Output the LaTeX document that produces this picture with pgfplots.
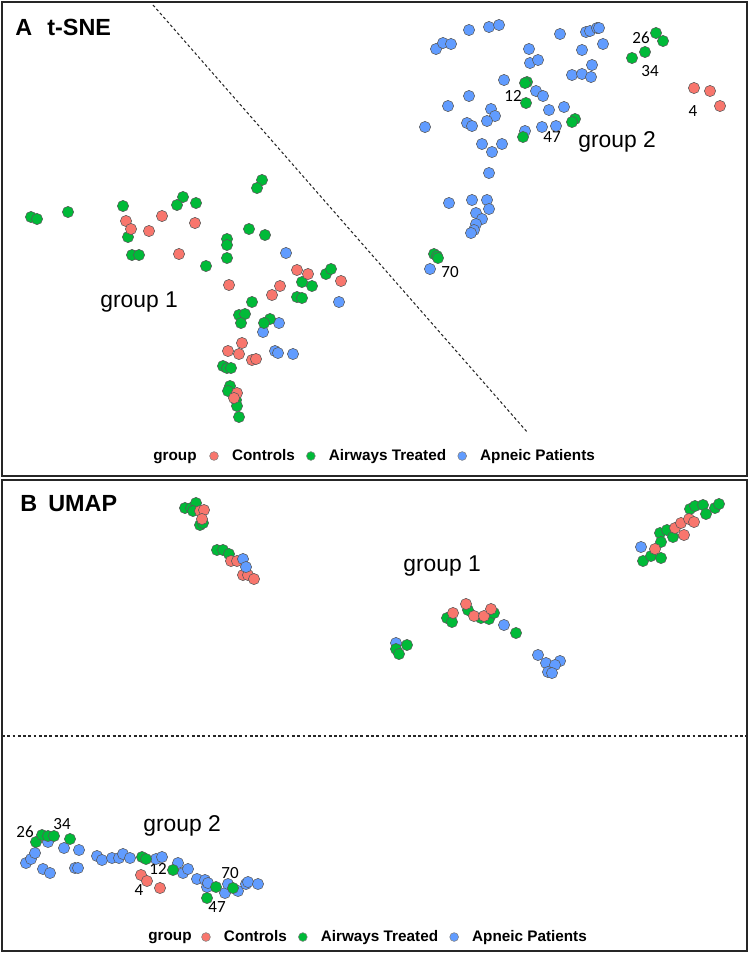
\documentclass[border=0pt]{standalone}
\usepackage{fontspec}
\setmainfont{Liberation Sans}
\newfontfamily\labfont{Carlito}
\usepackage{pgfplots}
\pgfplotsset{compat=1.18}

\definecolor{ctrl}{HTML}{F8766D}
\definecolor{airw}{HTML}{00BA38}
\definecolor{apne}{HTML}{619CFF}

% picture is set out in reference pixels, 1 px = 0.02 cm
\pgfplotsset{
  panel/.style={
    scale only axis, width=14.9cm,
    xmin=2, xmax=747, y dir=reverse,
    xtick=\empty, ytick=\empty,
    axis line style={draw=black!85, line width=1pt},
    clip=false,
    legend style={draw=none, fill=none, inner sep=0pt, outer sep=0pt,
      legend columns=-1, anchor=west,
      font=\bfseries\fontsize{8.7}{10}\selectfont,
      /tikz/every odd column/.append style={column sep=0.06cm}},
  },
  dots/.style={only marks, mark=*, mark size=3.2pt,
    mark options={fill=#1, draw=black!65, line width=0.3pt}},
  key/.style={only marks, mark=*, mark size=2.5pt,
    mark options={fill=#1, draw=black!50, line width=0.3pt},
    legend image code/.code={\path[draw=none] (0cm,0cm) -- (0.48cm,0cm);
      \draw[##1] plot[only marks] coordinates {(0.25cm,0cm)};}},
  sep/.style={black!85, line width=0.6pt, dash pattern=on 1.6pt off 1.4pt},
}
\tikzset{
  grp/.style={font=\fontsize{13}{15}\selectfont, anchor=base west, inner sep=0pt},
  ttl/.style={font=\bfseries\fontsize{13.3}{15}\selectfont, anchor=base west, inner sep=0pt},
  pid/.style={font=\labfont\fontsize{9.7}{11}\selectfont, inner sep=0pt},
  lgt/.style={font=\bfseries\fontsize{8.7}{10}\selectfont, anchor=base west, inner sep=0pt},
}

\begin{document}
\begin{tikzpicture}
\path (0,0) rectangle (15cm,-19.08cm);

% ---------------- A: t-SNE ----------------
\begin{axis}[panel, height=9.48cm, ymin=2, ymax=476,
  at={(0.04cm,-0.04cm)}, anchor=north west,
  legend style={at={(0.2678,0.0422)}}]

  \addplot[sep, forget plot] coordinates {(153,5) (528,433)};

  \addplot[dots=apne, forget plot] coordinates {
    (286,253) (339,302) (279,323) (263,332) (275,351) (278,353) (293,354)
    (436,49) (443,43) (451,44) (469,30) (489,27) (499,25) (560,34) (586,32)
    (590,31) (597,28) (599,28) (603,44) (582,50) (529,49) (530,63) (538,60)
    (592,65) (572,75) (582,74) (591,77) (504,80) (536,91) (543,96) (469,96)
    (448,106) (491,109) (495,116) (487,121) (467,123) (472,126) (425,127)
    (549,110) (564,107) (525,131) (542,127) (556,126) (482,144) (492,152)
    (502,144) (489,173) (449,203) (472,200) (487,200) (489,209) (476,213)
    (482,219) (476,224) (474,230) (471,233) (430,269)};

  \addplot[dots=airw, forget plot] coordinates {
    (262,180) (257,188) (183,197) (177,205) (196,203) (123,206) (68,212)
    (31,217) (37,219) (249,229) (265,235) (227,239) (128,237) (132,255)
    (139,255) (227,245) (227,258) (206,266) (252,302) (302,282) (312,286)
    (326,274) (331,269) (297,297) (302,298) (239,315) (245,314) (241,323)
    (270,319) (264,323) (223,366) (227,368) (231,368) (230,386) (228,391)
    (236,400) (237,406) (239,417)
    (527,82) (525,83) (526,103) (575,119) (572,122) (523,137) (656,33)
    (663,41) (645,52) (632,58) (434,254) (437,256) (438,258)};

  \addplot[dots=ctrl, forget plot] coordinates {
    (126,221) (131,229) (149,231) (162,216) (195,223) (179,254) (229,285)
    (280,286) (272,295) (297,270) (308,274) (341,281) (242,343) (228,351)
    (239,354) (252,360) (256,359) (237,393) (234,398)
    (694,88) (710,91) (720,106)};

  \addlegendimage{key=ctrl}\addlegendentry{Controls}
  \addlegendimage{key=airw}\addlegendentry{Airways Treated}
  \addlegendimage{key=apne}\addlegendentry{Apneic Patients}

  \node[ttl] at (axis cs:15,35) {A};
  \node[ttl] at (axis cs:47,35) {t-SNE};
  \node[grp] at (axis cs:100,307) {group 1};
  \node[grp] at (axis cs:578,147) {group 2};
  \node[pid] at (axis cs:641,38) {26};
  \node[pid] at (axis cs:650,71) {34};
  \node[pid] at (axis cs:513,96) {12};
  \node[pid] at (axis cs:552,137) {47};
  \node[pid] at (axis cs:693,111) {4};
  \node[pid] at (axis cs:450,272) {70};
  \node[lgt] at (axis cs:153,460) {group};
\end{axis}

% ---------------- B: UMAP ----------------
\begin{axis}[panel, height=9.42cm, ymin=480, ymax=951,
  at={(0.04cm,-9.6cm)}, anchor=north west,
  legend style={at={(0.2570,0.0297)}}]

  \addplot[sep, forget plot] coordinates {(2,736) (747,736)};

  \addplot[dots=apne, forget plot] coordinates {
    (641,547) (504,625) (396,643) (538,655) (546,663) (560,661) (555,665)
    (548,672) (552,673)
    (26,863) (31,859) (35,853) (43,869) (50,873) (48,842) (64,848) (79,850)
    (75,868) (78,868) (97,856) (102,860) (112,858) (119,858) (123,854)
    (130,858) (156,859) (162,857) (178,863) (183,873) (188,869) (197,879)
    (205,880) (207,887) (208,883) (225,893) (228,884) (238,891) (246,884)
    (248,882) (258,884)};

  \addplot[dots=airw, forget plot] coordinates {
    (185,508) (191,508) (196,503) (193,511) (200,525) (203,523) (217,550)
    (223,550) (229,554) (690,509) (695,506) (703,505) (715,508) (719,504)
    (706,514) (660,533) (667,530) (673,537) (661,542) (643,561) (651,556)
    (661,558) (447,618) (452,622) (468,610) (481,618) (489,619) (494,613)
    (516,633) (396,649) (399,654) (407,645)
    (36,842) (42,835) (48,836) (54,836) (70,839) (142,857) (146,859)
    (173,870) (216,887) (233,888) (207,898)};

  \addplot[dots=ctrl, forget plot] coordinates {
    (200,511) (204,510) (202,519) (231,561) (237,561) (243,575) (248,575)
    (254,579) (675,528) (681,523) (689,519) (694,522) (684,535) (655,549)
    (453,613) (466,604) (474,616) (484,616) (491,609)
    (141,875) (147,881) (160,888)};

  \addplot[dots=apne, forget plot] coordinates {(243,559) (246,567)};

  \addlegendimage{key=ctrl}\addlegendentry{Controls}
  \addlegendimage{key=airw}\addlegendentry{Airways Treated}
  \addlegendimage{key=apne}\addlegendentry{Apneic Patients}

  \node[ttl] at (axis cs:20,511) {B};
  \node[ttl] at (axis cs:48,511) {UMAP};
  \node[grp] at (axis cs:403,571) {group 1};
  \node[grp] at (axis cs:143,831) {group 2};
  \node[pid] at (axis cs:25,832) {26};
  \node[pid] at (axis cs:62,824) {34};
  \node[pid] at (axis cs:158,869) {12};
  \node[pid] at (axis cs:139,890) {4};
  \node[pid] at (axis cs:230,873) {70};
  \node[pid] at (axis cs:217,907) {47};
  \node[lgt] at (axis cs:148,940) {group};
\end{axis}
\end{tikzpicture}
\end{document}
